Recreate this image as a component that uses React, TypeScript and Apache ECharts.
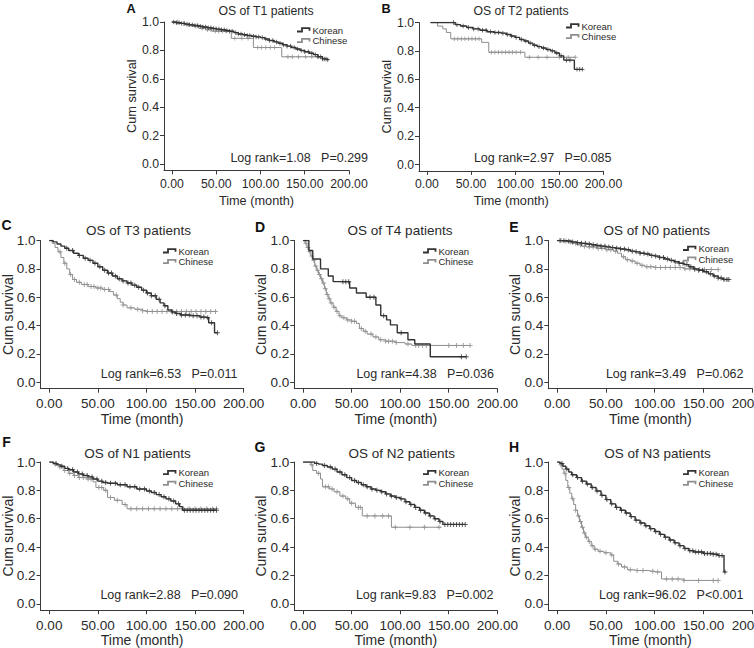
import React, { useEffect, useRef } from "react";
import * as echarts from "echarts";

// ---------- shared tick values / texts ----------
const xTicks = [0, 50, 100, 150, 200];
const yTicks = [0, 0.2, 0.4, 0.6, 0.8, 1.0];
const groups = ["Korean", "Chinese"];
const letters = ["A", "B", "C", "D", "E", "F", "G", "H"];
const titles = [
  "OS of T1 patients",
  "OS of T2 patients",
  "OS of T3 patients",
  "OS of T4 patients",
  "OS of N0 patients",
  "OS of N1 patients",
  "OS of N2 patients",
  "OS of N3 patients",
];
const logRanks = [
  "Log rank=1.08   P=0.299",
  "Log rank=2.97   P=0.085",
  "Log rank=6.53   P=0.011",
  "Log rank=4.38   P=0.036",
  "Log rank=3.49   P=0.062",
  "Log rank=2.88   P=0.090",
  "Log rank=9.83   P=0.002",
  "Log rank=96.02   P<0.001",
];

// ---------- survival curves: [time, survival from that time on] ----------
const t1Korean = [[0,1],[5,0.995],[10,0.99],[15,0.985],[20,0.98],[25,0.975],[30,0.97],[35,0.965],[40,0.96],[45,0.955],[50,0.95],[55,0.945],[60,0.94],[65,0.935],[70,0.925],[75,0.915],[80,0.91],[85,0.905],[90,0.9],[95,0.895],[100,0.89],[105,0.88],[110,0.87],[115,0.86],[120,0.85],[125,0.84],[130,0.83],[135,0.82],[140,0.81],[145,0.8],[150,0.79],[155,0.78],[160,0.77],[165,0.755],[170,0.74],[175,0.735],[177,0.735]];
const t1KoreanCensor = [2,5,8,11,14,17,20,23,26,29,32,35,38,41,44,47,50,53,56,59,62,65,68,72,75,78,82,85,88,92,95,98,102,106,110,114,118,122,126,130,134,138,142,146,150,154,158,162,165,168,170,172,174,176];
const t1Chinese = [[0,1],[8,0.99],[15,0.98],[22,0.97],[30,0.955],[38,0.945],[45,0.935],[67,0.885],[92,0.82],[124,0.755],[165,0.755]];
const t1ChineseCensor = [6,13,19,27,34,40,44,49,53,57,61,71,79,86,97,101,106,111,116,131,136,143,151,158,165];

const t2Korean = [[4,1],[28,1],[32,0.985],[38,0.975],[45,0.965],[52,0.955],[60,0.945],[68,0.935],[76,0.93],[84,0.925],[90,0.915],[95,0.905],[100,0.895],[105,0.88],[110,0.87],[115,0.855],[120,0.84],[125,0.83],[130,0.82],[135,0.81],[140,0.8],[145,0.785],[150,0.765],[155,0.735],[165,0.735],[167,0.67],[177,0.67]];
const t2KoreanCensor = [30,34,41,47,53,58,63,67,72,77,81,86,91,96,101,107,112,117,122,127,132,137,142,147,152,158,162,170,173,176];
const t2Chinese = [[4,1],[12,0.975],[18,0.955],[22,0.93],[27,0.885],[62,0.86],[70,0.79],[111,0.755],[168,0.755]];
const t2ChineseCensor = [31,35,39,43,47,51,55,59,73,77,81,85,89,93,97,101,106,116,126,136,150,160,168];

const t3Korean = [[0,1],[4,0.99],[8,0.975],[12,0.96],[16,0.945],[20,0.93],[25,0.91],[30,0.895],[35,0.875],[40,0.86],[45,0.84],[50,0.815],[55,0.79],[60,0.77],[65,0.75],[70,0.73],[75,0.715],[80,0.7],[85,0.685],[90,0.67],[95,0.65],[100,0.63],[105,0.61],[110,0.585],[114,0.56],[118,0.54],[122,0.51],[126,0.495],[130,0.485],[135,0.475],[145,0.47],[155,0.46],[162,0.455],[164,0.42],[170,0.35],[173,0.35]];
const t3KoreanCensor = [18,24,31,37,42,47,52,57,61,64,68,72,76,81,84,88,92,97,101,105,109,113,119,127,131,136,140,144,148,152,156,159,163,167,173];
const t3Chinese = [[0,1],[3,0.98],[6,0.95],[9,0.92],[12,0.88],[15,0.84],[18,0.8],[21,0.76],[24,0.725],[28,0.705],[33,0.69],[40,0.675],[48,0.665],[55,0.655],[62,0.64],[66,0.615],[70,0.59],[73,0.565],[76,0.545],[80,0.525],[88,0.515],[96,0.505],[100,0.5],[172,0.5]];
const t3ChineseCensor = [11,16,22,26,31,36,39,43,46,50,53,57,61,69,76,84,91,96,101,106,111,116,121,126,131,136,141,146,151,156,161,166,171];

const t4Korean = [[0,1],[5,1],[6,0.93],[10,0.87],[18,0.8],[26,0.75],[31,0.71],[48,0.665],[55,0.63],[65,0.6],[75,0.545],[80,0.47],[86,0.44],[90,0.405],[97,0.35],[108,0.3],[115,0.27],[131,0.18],[168,0.18]];
const t4KoreanCensor = [41,44,47,69,73,83,101,163,168];
const t4Chinese = [[0,1],[2,0.98],[4,0.95],[6,0.92],[8,0.89],[10,0.86],[12,0.82],[14,0.79],[16,0.76],[18,0.73],[20,0.7],[22,0.66],[24,0.62],[26,0.59],[28,0.56],[31,0.53],[34,0.5],[37,0.47],[40,0.455],[45,0.44],[50,0.43],[55,0.415],[58,0.38],[62,0.36],[66,0.34],[72,0.32],[78,0.3],[85,0.29],[95,0.28],[105,0.27],[112,0.26],[172,0.26]];
const t4ChineseCensor = [3,5,7,9,11,13,15,17,19,21,23,25,27,29,32,35,38,42,46,50,53,60,64,70,75,80,85,88,92,96,108,116,119,123,127,150,158,165,172];

const n0Korean = [[0,1],[5,0.998],[10,0.995],[15,0.99],[20,0.985],[25,0.98],[30,0.975],[35,0.97],[40,0.965],[45,0.96],[50,0.955],[55,0.95],[60,0.945],[65,0.94],[70,0.935],[75,0.925],[80,0.92],[85,0.91],[90,0.905],[95,0.895],[100,0.89],[105,0.88],[110,0.87],[115,0.86],[120,0.85],[125,0.84],[130,0.83],[135,0.815],[140,0.8],[145,0.79],[150,0.78],[155,0.765],[160,0.75],[165,0.735],[170,0.725],[176,0.725]];
const n0KoreanCensor = [3,7,12,16,21,25,29,33,37,41,45,49,53,57,61,65,69,73,77,81,85,89,93,97,101,105,109,113,117,121,125,129,133,137,141,145,149,153,157,161,165,168,171,174,176];
const n0Chinese = [[0,1],[5,0.995],[10,0.99],[15,0.98],[20,0.97],[25,0.96],[30,0.955],[40,0.945],[50,0.935],[58,0.925],[62,0.91],[66,0.885],[70,0.865],[75,0.855],[80,0.84],[85,0.825],[90,0.815],[100,0.81],[120,0.81],[130,0.8],[140,0.795],[165,0.795]];
const n0ChineseCensor = [4,9,14,19,24,28,33,37,42,46,51,55,60,68,72,77,82,87,92,96,101,106,111,116,121,126,131,136,141,146,151,158,165];

const n1Korean = [[0,1],[4,0.99],[8,0.98],[12,0.97],[16,0.955],[20,0.945],[25,0.93],[30,0.915],[35,0.905],[40,0.895],[45,0.88],[50,0.865],[55,0.855],[60,0.85],[70,0.84],[80,0.825],[90,0.81],[100,0.795],[105,0.785],[110,0.77],[115,0.755],[120,0.74],[125,0.725],[130,0.705],[134,0.685],[137,0.66],[172,0.66]];
const n1KoreanCensor = [7,13,19,24,29,34,39,44,49,54,58,63,68,73,78,83,88,93,98,103,108,113,118,123,128,133,139,142,145,148,151,154,157,160,163,166,169,172];
const n1Chinese = [[0,1],[5,0.985],[10,0.965],[15,0.94],[20,0.92],[25,0.905],[30,0.89],[38,0.88],[45,0.86],[48,0.82],[56,0.8],[60,0.75],[67,0.73],[75,0.7],[80,0.67],[172,0.67]];
const n1ChineseCensor = [6,11,16,21,26,31,35,40,43,51,54,58,63,70,78,84,90,96,102,108,114,120,126,132,138,144,150,156,162,168,172];

const n2Korean = [[0,1],[8,1],[12,0.99],[16,0.985],[20,0.975],[25,0.965],[30,0.95],[35,0.93],[40,0.91],[45,0.89],[50,0.87],[55,0.855],[60,0.84],[65,0.825],[70,0.81],[75,0.8],[80,0.79],[85,0.775],[90,0.76],[95,0.75],[100,0.74],[105,0.72],[110,0.7],[115,0.68],[120,0.66],[125,0.64],[130,0.62],[135,0.6],[140,0.58],[144,0.56],[167,0.56]];
const n2KoreanCensor = [14,22,28,33,38,43,48,53,57,62,66,71,76,81,86,91,96,101,106,111,116,121,126,131,136,141,146,149,152,155,158,161,164,167];
const n2Chinese = [[0,1],[8,0.98],[10,0.94],[14,0.92],[18,0.88],[20,0.825],[27,0.81],[32,0.79],[38,0.76],[44,0.74],[48,0.71],[54,0.68],[61,0.62],[91,0.54],[142,0.54]];
const n2ChineseCensor = [9,16,23,26,30,35,41,46,50,57,59,66,74,82,88,95,110,125,140];

const n3Korean = [[0,1],[3,0.99],[6,0.97],[9,0.95],[12,0.93],[15,0.91],[20,0.89],[25,0.865],[30,0.845],[35,0.82],[40,0.795],[45,0.765],[50,0.735],[55,0.705],[60,0.68],[65,0.66],[70,0.64],[75,0.615],[80,0.59],[85,0.57],[90,0.55],[95,0.53],[100,0.51],[105,0.49],[110,0.47],[115,0.45],[120,0.43],[125,0.41],[130,0.39],[135,0.375],[140,0.365],[150,0.355],[160,0.35],[165,0.34],[170,0.34],[171,0.225],[173,0.225]];
const n3KoreanCensor = [5,10,16,21,26,31,36,41,46,51,56,61,66,71,76,81,86,91,96,101,106,111,116,121,126,131,136,139,142,145,148,151,154,157,160,163,166,169,172];
const n3Chinese = [[0,1],[3,0.98],[5,0.95],[7,0.92],[9,0.87],[11,0.82],[13,0.78],[15,0.74],[17,0.7],[19,0.66],[21,0.62],[23,0.58],[25,0.54],[27,0.5],[29,0.47],[32,0.44],[35,0.41],[38,0.385],[42,0.37],[48,0.36],[55,0.345],[58,0.3],[62,0.28],[66,0.26],[72,0.24],[80,0.235],[95,0.23],[100,0.225],[107,0.175],[130,0.165],[165,0.165]];
const n3ChineseCensor = [4,8,12,16,19,22,24,26,28,30,33,36,39,44,50,56,63,69,75,82,88,98,103,112,118,124,130,145,160,165];

const panels = [
  { korean: t1Korean, koreanCensor: t1KoreanCensor, chinese: t1Chinese, chineseCensor: t1ChineseCensor },
  { korean: t2Korean, koreanCensor: t2KoreanCensor, chinese: t2Chinese, chineseCensor: t2ChineseCensor },
  { korean: t3Korean, koreanCensor: t3KoreanCensor, chinese: t3Chinese, chineseCensor: t3ChineseCensor },
  { korean: t4Korean, koreanCensor: t4KoreanCensor, chinese: t4Chinese, chineseCensor: t4ChineseCensor },
  { korean: n0Korean, koreanCensor: n0KoreanCensor, chinese: n0Chinese, chineseCensor: n0ChineseCensor },
  { korean: n1Korean, koreanCensor: n1KoreanCensor, chinese: n1Chinese, chineseCensor: n1ChineseCensor },
  { korean: n2Korean, koreanCensor: n2KoreanCensor, chinese: n2Chinese, chineseCensor: n2ChineseCensor },
  { korean: n3Korean, koreanCensor: n3KoreanCensor, chinese: n3Chinese, chineseCensor: n3ChineseCensor },
];

// ---------- layout (page pixels) ----------
const ROW2_TOP = 240.5;
const ROW3_TOP = 462;
const layouts = [
  { left: 164, top: 22, width: 185, height: 148.4, k: 0.91, titleX: 266, titleY: 10.5, letterX: 131, letterY: 8.5, lrX: 368, lrY: 158, iconX: 297, legY: 30, legDy: 10.7 },
  { left: 419, top: 22.5, width: 184.5, height: 148.4, k: 0.91, titleX: 521, titleY: 11, letterX: 386, letterY: 8.5, lrX: 611.5, lrY: 157.5, iconX: 566, legY: 26, legDy: 10.7 },
  { left: 40.5, top: ROW2_TOP, width: 203.2, height: 148.2, k: 1, titleX: 138.5, titleY: 230.5, letterX: 6.5, letterY: 225, lrX: 237.5, lrY: 374, iconX: 163, legY: 251, legDy: 10.7 },
  { left: 294.3, top: ROW2_TOP, width: 203, height: 148.2, k: 1, titleX: 400, titleY: 230, letterX: 260, letterY: 226.5, lrX: 494, lrY: 374, iconX: 423, legY: 251, legDy: 10.7 },
  { left: 548.3, top: ROW2_TOP, width: 204, height: 148.2, k: 1, titleX: 656.7, titleY: 230, letterX: 514, letterY: 226.5, lrX: 743.5, lrY: 374, iconX: 683, legY: 248.5, legDy: 10.7 },
  { left: 40.5, top: ROW3_TOP, width: 203.2, height: 148.2, k: 1, titleX: 137.5, titleY: 453, letterX: 6.5, letterY: 442, lrX: 238, lrY: 595, iconX: 163, legY: 472.7, legDy: 10.7 },
  { left: 294.3, top: ROW3_TOP, width: 203, height: 148.2, k: 1, titleX: 401.7, titleY: 453, letterX: 260, letterY: 446.5, lrX: 493.5, lrY: 595, iconX: 423, legY: 472.7, legDy: 10.7 },
  { left: 548.3, top: ROW3_TOP, width: 204, height: 148.2, k: 1, titleX: 657.5, titleY: 453, letterX: 514, letterY: 446.5, lrX: 743.5, lrY: 595, iconX: 683, legY: 472.7, legDy: 10.7 },
];

const FONT = "'Liberation Sans', Arial, Helvetica, sans-serif";
const DARK = "#333333";
const GREY = "#8e8e8e";
const TEXT = "#2a2a2a";
const AXIS = "#3a3a3a";
const PLUS = "path://M0,4H10V6H0Z M4,0H6V10H4Z";

function survAt(curve: number[][], t: number): number {
  let s = curve[0][1];
  for (const [ti, si] of curve) {
    if (ti <= t) s = si;
    else break;
  }
  return s;
}

function buildOption() {
  const grid: any[] = [];
  const xAxis: any[] = [];
  const yAxis: any[] = [];
  const series: any[] = [];
  const graphic: any[] = [];

  panels.forEach((p, i) => {
    const L = layouts[i];
    const k = L.k;
    const small = k < 1;
    const tickFont = 13.5 * k;
    const nameFont = 14 * k;
    grid.push({ left: L.left, top: L.top, width: L.width, height: L.height, containLabel: false, outerBoundsMode: "none" });
    xAxis.push({
      type: "value",
      gridIndex: i,
      min: -9,
      max: 200,
      axisLine: { show: true, onZero: false, lineStyle: { color: AXIS, width: 1 } },
      axisTick: { show: true, inside: false, length: 4, customValues: xTicks, lineStyle: { color: AXIS, width: 1 } },
      axisLabel: { customValues: xTicks, formatter: (v: number) => v.toFixed(2), margin: small ? 7.5 : 8, fontSize: tickFont, color: TEXT, fontFamily: FONT },
      splitLine: { show: false },
      name: "Time (month)",
      nameLocation: "middle",
      nameGap: small ? 23 : 22.5,
      nameMoveOverlap: false,
      nameTextStyle: { fontSize: nameFont, color: TEXT, fontFamily: FONT, lineHeight: nameFont * 1.1 },
    });
    yAxis.push({
      type: "value",
      gridIndex: i,
      min: -0.045,
      max: 1,
      axisLine: { show: true, onZero: false, lineStyle: { color: AXIS, width: 1 } },
      axisTick: { show: true, inside: false, length: 4, customValues: yTicks, lineStyle: { color: AXIS, width: 1 } },
      axisLabel: { customValues: yTicks, formatter: (v: number) => v.toFixed(1), margin: 5, fontSize: tickFont, color: TEXT, fontFamily: FONT },
      splitLine: { show: false },
      name: "Cum survival",
      nameLocation: "middle",
      nameGap: 26,
      nameMoveOverlap: false,
      nameTextStyle: { fontSize: nameFont, color: TEXT, fontFamily: FONT },
    });

    const sym = small ? 4.5 : 5;
    series.push({
      type: "line", name: groups[1], xAxisIndex: i, yAxisIndex: i, step: "end",
      data: p.chinese, showSymbol: false, symbol: "none", silent: true, z: 2,
      lineStyle: { color: GREY, width: 1 },
    });
    series.push({
      type: "scatter", xAxisIndex: i, yAxisIndex: i, silent: true, z: 3,
      symbol: PLUS, symbolSize: sym, itemStyle: { color: GREY },
      data: p.chineseCensor.map((t) => [t, survAt(p.chinese, t)]),
    });
    series.push({
      type: "line", name: groups[0], xAxisIndex: i, yAxisIndex: i, step: "end",
      data: p.korean, showSymbol: false, symbol: "none", silent: true, z: 4,
      lineStyle: { color: DARK, width: 1.4 },
    });
    series.push({
      type: "scatter", xAxisIndex: i, yAxisIndex: i, silent: true, z: 5,
      symbol: PLUS, symbolSize: sym, itemStyle: { color: DARK },
      data: p.koreanCensor.map((t) => [t, survAt(p.korean, t)]),
    });

    // title, panel letter, log-rank text
    graphic.push({
      type: "text", silent: true, x: L.titleX, y: L.titleY,
      style: { text: titles[i], fontSize: 13.5 * k, fontFamily: FONT, fill: TEXT, align: "center", verticalAlign: "middle", textAlign: "center", textVerticalAlign: "middle" },
    });
    graphic.push({
      type: "text", silent: true, x: L.letterX, y: L.letterY,
      style: { text: letters[i], fontSize: 14 * k, fontWeight: "bold", fontFamily: FONT, fill: "#111", align: "center", verticalAlign: "middle", textAlign: "center", textVerticalAlign: "middle" },
    });
    graphic.push({
      type: "text", silent: true, x: L.lrX, y: L.lrY,
      style: { text: logRanks[i], fontSize: 12.5, fontFamily: FONT, fill: TEXT, align: "right", verticalAlign: "middle", textAlign: "right", textVerticalAlign: "middle" },
    });
    // legend
    groups.forEach((g, gi) => {
      const y = L.legY + gi * L.legDy;
      const x = L.iconX;
      graphic.push({
        type: "polyline", silent: true,
        shape: { points: [[x, y + 1.5], [x + 5, y + 1.5], [x + 5, y - 1.8], [x + 12.5, y - 1.8], [x + 12.5, y + 0.8]] },
        style: { stroke: gi === 0 ? DARK : GREY, lineWidth: 1.8, fill: null },
      });
      graphic.push({
        type: "text", silent: true, x: x + 15.5, y,
        style: { text: g, fontSize: 9.5, fontFamily: FONT, fill: TEXT, align: "left", verticalAlign: "middle", textAlign: "left", textVerticalAlign: "middle" },
      });
    });
  });

  return {
    animation: false,
    backgroundColor: "#ffffff",
    grid,
    xAxis,
    yAxis,
    series,
    graphic,
  };
}

export default function App() {
  const ref = useRef<HTMLDivElement>(null);
  useEffect(() => {
    if (!ref.current) return;
    const chart = echarts.init(ref.current, null, { renderer: "svg" });
    chart.setOption(buildOption() as any);
    return () => chart.dispose();
  }, []);
  return (
    <div
      ref={ref}
      style={{ position: "absolute", left: 0, top: 0, width: 754, height: 648, background: "#fff" }}
    />
  );
}
